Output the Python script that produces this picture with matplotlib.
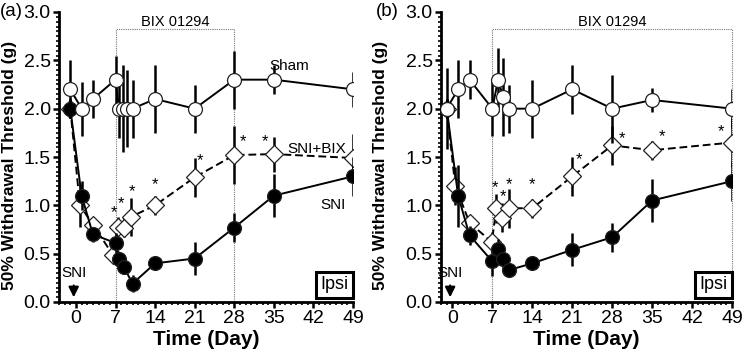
import matplotlib
matplotlib.use("Agg")
import matplotlib.pyplot as plt
from matplotlib.ticker import MultipleLocator

plt.rcParams["font.family"] = ["Liberation Sans", "DejaVu Sans"]

# ---- panel (a) ----
A_SHAM_X = [-1, 1, 3, 7, 7.6, 8.3, 9, 10, 14, 21, 28, 35, 49]
A_SHAM_Y = [2.2, 2.0, 2.1, 2.3, 2.0, 2.0, 2.0, 2.0, 2.1, 2.0, 2.3, 2.3, 2.2]
A_SHAM_E = [0.3, 0.28, 0.2, 0.25, 0.3, 0.45, 0.4, 0.3, 0.35, 0.25, 0.3, 0.15, 0.18]

A_SNI_X = [-1, 1, 3, 7, 7.6, 8.5, 10, 14, 21, 28, 35, 49]
A_SNI_Y = [2.0, 1.1, 0.7, 0.61, 0.44, 0.36, 0.19, 0.4, 0.45, 0.77, 1.1, 1.3]
A_SNI_E = [0.1, 0.15, 0.08, 0.1, 0.06, 0.06, 0.09, 0.07, 0.17, 0.15, 0.22, 0.2]

A_BIX_X = [-1, 0.7, 3, 6.5, 7.5, 8.5, 9.7, 14, 21, 28, 35, 49]
A_BIX_Y = [2.0, 1.0, 0.8, 0.49, 0.78, 0.77, 0.88, 1.0, 1.29, 1.52, 1.53, 1.49]
A_BIX_E = [0.1, 0.22, 0.08, 0.07, 0.1, 0.1, 0.2, 0.1, 0.2, 0.3, 0.18, 0.25]

A_STAR_X = [6.7, 8.0, 9.9, 13.9, 22.0, 29.6, 33.5]
A_STAR_Y = [0.92, 1.02, 1.14, 1.21, 1.46, 1.66, 1.66]

# ---- panel (b) ----
B_SHAM_X = [-1, 1, 3, 7, 8, 8.9, 9.9, 14, 21, 28, 35, 49]
B_SHAM_Y = [2.0, 2.2, 2.3, 2.0, 2.3, 2.12, 2.0, 2.0, 2.2, 2.0, 2.09, 2.0]
B_SHAM_E = [0.42, 0.3, 0.2, 0.28, 0.33, 0.4, 0.25, 0.3, 0.25, 0.35, 0.12, 0.2]

B_SNI_X = [-1, 1, 3, 7, 8, 8.9, 9.9, 14, 21, 28, 35, 49]
B_SNI_Y = [2.0, 1.1, 0.69, 0.42, 0.55, 0.45, 0.33, 0.4, 0.54, 0.67, 1.05, 1.25]
B_SNI_E = [0.1, 0.32, 0.1, 0.15, 0.1, 0.1, 0.07, 0.07, 0.17, 0.15, 0.22, 0.2]

B_BIX_X = [-1, 0.5, 3, 6.9, 7.7, 8.75, 9.9, 14, 21, 28, 35, 49]
B_BIX_Y = [2.0, 1.2, 0.82, 0.62, 0.97, 0.87, 0.97, 0.97, 1.3, 1.62, 1.57, 1.65]
B_BIX_E = [0.1, 0.2, 0.08, 0.1, 0.15, 0.15, 0.2, 0.1, 0.2, 0.2, 0.1, 0.25]

B_STAR_X = [7.5, 8.9, 9.9, 13.9, 22.2, 29.8, 36.8, 47.0]
B_STAR_Y = [1.18, 1.09, 1.21, 1.21, 1.47, 1.69, 1.71, 1.76]

X_TICKS = [0, 7, 14, 21, 28, 35, 42, 49]
Y_TICKS = [0.0, 0.5, 1.0, 1.5, 2.0, 2.5, 3.0]


def series(ax, x, y, e, marker, face, ls, z, size):
    ax.errorbar(x, y, yerr=e, fmt="none", ecolor="black", elinewidth=1.8,
                capsize=0, zorder=z)
    ax.plot(x, y, color="black", lw=1.4, ls=ls, marker=marker, ms=size,
            mfc=face, mec="#222222", mew=0.9, zorder=z + 0.5)


def panel(ax, label, xmin, data, stars, box_end, bix_x, names, ylab_px, lab_px):
    (sx, sy, se), (nx, ny, ne), (bx, by, be) = data
    series(ax, bx, by, be, "D", "white", (0, (4, 2)), 2, 9.5)
    series(ax, nx, ny, ne, "o", "black", "-", 3, 10)
    series(ax, sx, sy, se, "o", "white", "-", 4, 10)

    for x, y in zip(*stars):
        ax.text(x, y, "*", ha="center", va="center", fontsize=12, zorder=6)

    # BIX 01294 treatment window
    ax.plot([7, 7, box_end, box_end], [0, 2.82, 2.82, 0], color="#777777",
            lw=0.8, ls=(0, (1, 1)), zorder=1, clip_on=False)
    ax.text(bix_x, 2.9, "BIX 01294", ha="center", va="center", fontsize=10.5)

    ax.annotate("", xy=(-0.4, 0.02), xytext=(-0.4, 0.2),
                arrowprops=dict(arrowstyle="-|>,head_width=0.3,head_length=0.6",
                                color="black", lw=1.5))
    ax.text(-0.4, 0.3, "SNI", ha="center", va="center", fontsize=11)
    for txt, x, y in names:
        ax.text(x, y, txt, ha="center", va="center", fontsize=11)

    ax.text(45.8, 0.18, "Ipsi", ha="center", va="center", fontsize=13,
            bbox=dict(boxstyle="square,pad=0.25", fc="white", ec="black", lw=2.2))

    ax.set_xlim(xmin, 49)
    ax.set_ylim(0, 3.0)
    ax.set_xticks(X_TICKS)
    ax.set_yticks(Y_TICKS)
    ax.set_yticklabels([f"{v:.1f}" for v in Y_TICKS])
    ax.xaxis.set_minor_locator(MultipleLocator(1))
    ax.yaxis.set_minor_locator(MultipleLocator(0.05))
    ax.tick_params(which="major", direction="out", length=4.5, width=1.8,
                   labelsize=14, pad=1.5)
    ax.tick_params(which="minor", direction="out", length=2.5, width=1.2)
    for s in ["top", "right"]:
        ax.spines[s].set_visible(False)
    for s in ["left", "bottom"]:
        ax.spines[s].set_linewidth(2)
    ax.set_xlabel("Time (Day)", fontsize=15, fontweight="bold", labelpad=2)
    w = ax.get_position().width * 746
    ax.set_ylabel("50% Withdrawal Threshold (g)", fontsize=12.5, fontweight="bold")
    ax.yaxis.set_label_coords(-ylab_px / w, 0.47)
    ax.text(-lab_px / w, 1.0, label, transform=ax.transAxes, ha="left",
            va="center", fontsize=13.5)


fig = plt.figure(figsize=(7.46, 3.63), dpi=100)
ax_a = fig.add_axes([59 / 746, 61 / 363, 294 / 746, 290 / 363])
ax_b = fig.add_axes([441 / 746, 61 / 363, 291 / 746, 290 / 363])

panel(ax_a, "(a)", -3,
      [(A_SHAM_X, A_SHAM_Y, A_SHAM_E), (A_SNI_X, A_SNI_Y, A_SNI_E),
       (A_BIX_X, A_BIX_Y, A_BIX_E)],
      (A_STAR_X, A_STAR_Y), 28, 17.5,
      [("Sham", 37.8, 2.44), ("SNI+BIX", 42.5, 1.58), ("SNI", 45.5, 1.0)],
      42, 59)
panel(ax_b, "(b)", -2,
      [(B_SHAM_X, B_SHAM_Y, B_SHAM_E), (B_SNI_X, B_SNI_Y, B_SNI_E),
       (B_BIX_X, B_BIX_Y, B_BIX_E)],
      (B_STAR_X, B_STAR_Y), 49, 28, [], 53, 65)

fig.savefig("out.png", dpi=100)
